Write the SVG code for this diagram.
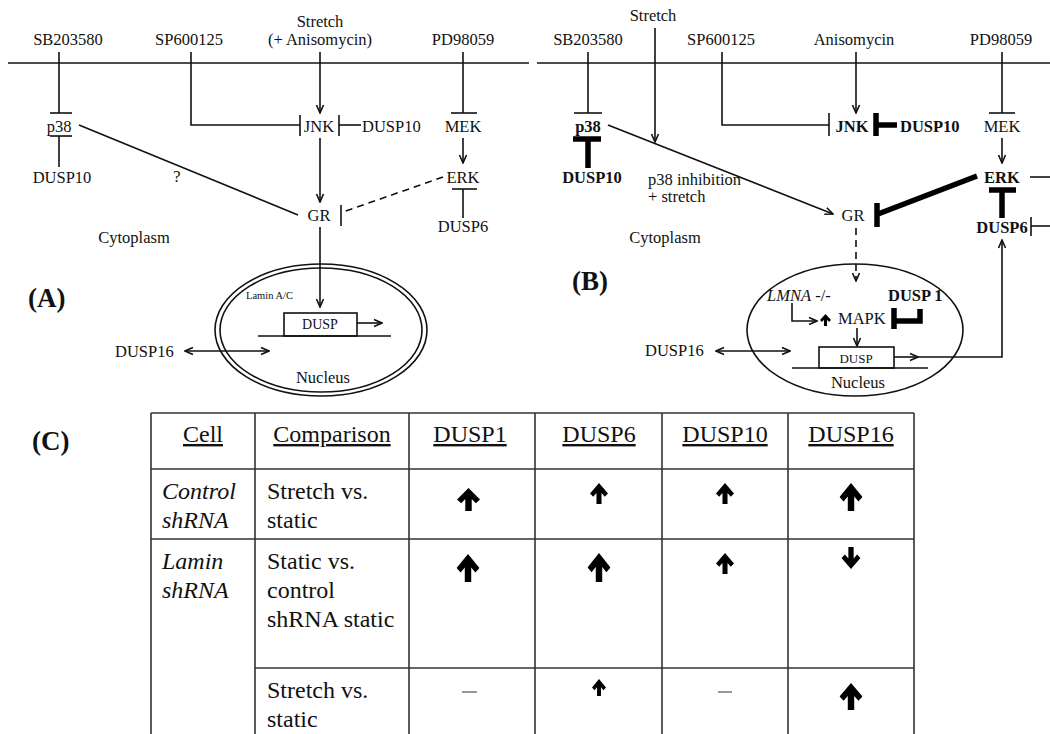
<svg xmlns="http://www.w3.org/2000/svg" xmlns:xlink="http://www.w3.org/1999/xlink" width="1050" height="734" viewBox="0 0 1050 734" font-family="'Liberation Serif', 'DejaVu Serif', serif">
<style>
.t{font-family:'Liberation Serif','DejaVu Serif',serif;font-size:16.5px;fill:#111}
.m{text-anchor:middle}
.b{font-weight:bold}
.i{font-style:italic}
.big{font-size:27px;font-weight:bold}
.tb{font-family:'Liberation Serif','DejaVu Serif',serif;font-size:24px;fill:#111}
.u{text-decoration:underline}
.ln{stroke:#111;stroke-width:1.6;fill:none}
.th{stroke:#000;stroke-width:5.5;fill:none}
.ar{marker-end:url(#ah)}
.dash{stroke-dasharray:7,5}
.grid{stroke:#333;stroke-width:1.6;fill:none}
.dsh{stroke:#777;stroke-width:1.5}
</style>
<defs>
<marker id="ah" viewBox="0 0 10 10" refX="9" refY="5" markerWidth="10" markerHeight="10" markerUnits="userSpaceOnUse" orient="auto-start-reverse">
<path d="M1,1.5 L9,5 L1,8.5" fill="none" stroke="#111" stroke-width="1.6"/>
</marker>
<symbol id="up" viewBox="0 0 10 10" preserveAspectRatio="none">
<path d="M5,0 L10,5 L8.2,6.6 L6.4,4.8 L6.4,10 L3.6,10 L3.6,4.8 L1.8,6.6 L0,5 Z" fill="#000"/>
</symbol>
<symbol id="down" viewBox="0 0 10 10" preserveAspectRatio="none">
<path d="M5,10 L10,5 L8.2,3.4 L6.4,5.2 L6.4,0 L3.6,0 L3.6,5.2 L1.8,3.4 L0,5 Z" fill="#000"/>
</symbol>
</defs>
<rect width="1050" height="734" fill="#fff"/>

<!-- membranes -->
<line x1="8" y1="63" x2="529" y2="63" class="ln"/>
<line x1="537" y1="63" x2="1050" y2="63" class="ln"/>

<!-- ===== Panel A nodes ===== -->
<g id="A-SB203580"><text class="t m" x="68" y="45">SB203580</text></g>
<g id="A-SP600125"><text class="t m" x="189" y="45">SP600125</text></g>
<g id="A-Stretch"><text class="t m" x="320" y="27">Stretch</text><text class="t m" x="320" y="45">(+ Anisomycin)</text></g>
<g id="A-PD98059"><text class="t m" x="463" y="45">PD98059</text></g>
<g id="A-p38"><text class="t m" x="59" y="132">p38</text></g>
<g id="A-DUSP10a"><text class="t m" x="62" y="183">DUSP10</text></g>
<g id="A-JNK"><text class="t m" x="319" y="132">JNK</text></g>
<g id="A-DUSP10b"><text class="t" x="362" y="132">DUSP10</text></g>
<g id="A-MEK"><text class="t m" x="463" y="132">MEK</text></g>
<g id="A-ERK"><text class="t m" x="463" y="183">ERK</text></g>
<g id="A-DUSP6"><text class="t m" x="463" y="232">DUSP6</text></g>
<g id="A-GR"><text class="t m" x="319" y="221">GR</text></g>
<g id="A-q"><text class="t m" x="177" y="182">?</text></g>
<g id="A-Cytoplasm"><text class="t m" x="134" y="243">Cytoplasm</text></g>
<g id="A-label"><text class="t big" x="28" y="307">(A)</text></g>
<g id="A-Nucleus">
<ellipse cx="321" cy="330" rx="106" ry="66" class="ln" stroke-width="1.2"/>
<ellipse cx="321" cy="330" rx="101" ry="62" class="ln" stroke-width="1.2"/>
<text class="t" x="246" y="299" style="font-size:10.5px">Lamin A/C</text>
<text class="t m" x="323" y="383">Nucleus</text>
</g>
<g id="A-DUSP"><rect x="284" y="313" width="73" height="23" class="ln" stroke-width="1.2"/><text class="t m" x="320" y="329" style="font-size:14px">DUSP</text></g>
<g id="A-DUSP16"><text class="t" x="115" y="357">DUSP16</text></g>

<!-- ===== Panel B nodes ===== -->
<g id="B-Stretch"><text class="t m" x="653" y="21">Stretch</text></g>
<g id="B-SB203580"><text class="t m" x="588" y="45">SB203580</text></g>
<g id="B-SP600125"><text class="t m" x="721" y="45">SP600125</text></g>
<g id="B-Anisomycin"><text class="t m" x="854" y="45">Anisomycin</text></g>
<g id="B-PD98059"><text class="t m" x="1001" y="45">PD98059</text></g>
<g id="B-p38"><text class="t m b" x="588" y="132">p38</text></g>
<g id="B-DUSP10a"><text class="t m b" x="592" y="183">DUSP10</text></g>
<g id="B-note"><text class="t" x="648" y="185">p38 inhibition</text><text class="t" x="648" y="202">+ stretch</text></g>
<g id="B-JNK"><text class="t m b" x="852" y="132">JNK</text></g>
<g id="B-DUSP10b"><text class="t b" x="900" y="132">DUSP10</text></g>
<g id="B-MEK"><text class="t m" x="1002" y="132">MEK</text></g>
<g id="B-ERK"><text class="t m b" x="1002" y="183">ERK</text></g>
<g id="B-DUSP6"><text class="t m b" x="1002" y="233">DUSP6</text></g>
<g id="B-GR"><text class="t m" x="853" y="221">GR</text></g>
<g id="B-Cytoplasm"><text class="t m" x="665" y="243">Cytoplasm</text></g>
<g id="B-label"><text class="t big" x="572" y="290">(B)</text></g>
<g id="B-Nucleus">
<ellipse cx="855" cy="330" rx="108" ry="66" class="ln" stroke-width="1.1"/>
<text class="t m" x="858" y="388">Nucleus</text>
</g>
<g id="B-LMNA"><text class="t" x="767" y="301"><tspan class="i">LMNA</tspan> -/-</text></g>
<g id="B-DUSP1"><text class="t b" x="888" y="301">DUSP 1</text></g>
<g id="B-MAPK"><use href="#up" xlink:href="#up" x="820" y="314" width="11" height="12"/><text class="t" x="838" y="324">MAPK</text></g>
<g id="B-DUSP"><rect x="819" y="347" width="75" height="21" class="ln" stroke-width="1.2"/><text class="t m" x="856" y="363" style="font-size:13px">DUSP</text></g>
<g id="B-DUSP16"><text class="t" x="645" y="356">DUSP16</text></g>

<!-- ===== Connectors ===== -->
<g id="connectors">
<!-- Panel A -->
<line x1="59" y1="52" x2="59" y2="113" class="ln"/><line x1="50" y1="113" x2="72" y2="113" class="ln"/>
<line x1="59" y1="167" x2="59" y2="136" class="ln"/><line x1="50" y1="136" x2="72" y2="136" class="ln"/>
<polyline points="191,52 191,125 300,125" class="ln"/><line x1="300" y1="115" x2="300" y2="136" class="ln"/>
<line x1="320" y1="52" x2="320" y2="113" class="ln ar"/>
<line x1="361" y1="125" x2="339" y2="125" class="ln"/><line x1="339" y1="115" x2="339" y2="136" class="ln"/>
<line x1="463" y1="52" x2="463" y2="113" class="ln"/><line x1="451" y1="113" x2="477" y2="113" class="ln"/>
<line x1="463" y1="138" x2="463" y2="163" class="ln ar"/>
<line x1="463" y1="218" x2="463" y2="189" class="ln"/><line x1="452" y1="189" x2="477" y2="189" class="ln"/>
<line x1="79" y1="125" x2="298" y2="215" class="ln"/>
<line x1="443" y1="177" x2="343" y2="212" class="ln dash"/><line x1="341" y1="205" x2="341" y2="226" class="ln"/>
<line x1="320" y1="138" x2="320" y2="202" class="ln ar"/>
<line x1="320" y1="227" x2="320" y2="307" class="ln ar"/>
<line x1="357" y1="323" x2="382" y2="323" class="ln ar"/>
<line x1="258" y1="336" x2="391" y2="336" class="ln"/>
<line x1="185" y1="351" x2="269" y2="351" class="ln ar" style="marker-start:url(#ah)"/>

<!-- Panel B -->
<line x1="588" y1="52" x2="588" y2="113" class="ln"/><line x1="574" y1="113" x2="602" y2="113" class="ln"/>
<line x1="573" y1="139" x2="601" y2="139" class="th"/><line x1="588" y1="139" x2="588" y2="168" class="th"/>
<line x1="655" y1="28" x2="655" y2="142" class="ln ar"/>
<line x1="608" y1="125" x2="833" y2="214" class="ln ar"/>
<polyline points="722,52 722,125 829,125" class="ln"/><line x1="829" y1="113" x2="829" y2="136" class="ln"/>
<line x1="856" y1="52" x2="856" y2="113" class="ln ar"/>
<line x1="876" y1="113" x2="876" y2="136" class="th" stroke-width="6"/><line x1="876" y1="125" x2="897" y2="125" class="th"/>
<line x1="1002" y1="52" x2="1002" y2="113" class="ln"/><line x1="989" y1="113" x2="1015" y2="113" class="ln"/>
<line x1="1002" y1="138" x2="1002" y2="163" class="ln ar"/>
<line x1="1030" y1="177" x2="1050" y2="177" class="ln"/>
<line x1="977" y1="176" x2="878" y2="214" class="th"/><line x1="877" y1="203" x2="877" y2="227" class="th" stroke-width="6"/>
<line x1="989" y1="190" x2="1016" y2="190" class="th"/><line x1="1002" y1="190" x2="1002" y2="218" class="th"/>
<line x1="1031" y1="217" x2="1031" y2="236" class="ln"/><line x1="1031" y1="226" x2="1050" y2="226" class="ln"/>
<line x1="856" y1="228" x2="856" y2="281" class="ln ar dash" stroke-dasharray="6,4"/>
<polyline points="792,303 792,321 817,321" class="ln ar"/>
<polyline points="894,308 894,329" class="th" stroke-width="6"/>
<polyline points="894,321 920,321 920,309" class="th" stroke-width="5"/>
<line x1="857" y1="328" x2="857" y2="346" class="ln ar"/>
<line x1="792" y1="368" x2="928" y2="368" class="ln"/>
<line x1="894" y1="357" x2="918" y2="357" class="ln ar"/>
<polyline points="918,357 1002,357 1002,240" class="ln ar"/>
<line x1="716" y1="351" x2="790" y2="351" class="ln ar" style="marker-start:url(#ah)"/>
</g>

<!-- ===== Table (C) ===== -->
<g id="C-label"><text class="t big" x="32" y="450">(C)</text></g>
<g id="table">
<line x1="151" y1="413" x2="914" y2="413" class="grid"/>
<line x1="151" y1="469" x2="914" y2="469" class="grid"/>
<line x1="151" y1="539" x2="914" y2="539" class="grid"/>
<line x1="255" y1="668" x2="914" y2="668" class="grid"/>
<line x1="151" y1="413" x2="151" y2="734" class="grid"/>
<line x1="255" y1="413" x2="255" y2="734" class="grid"/>
<line x1="409" y1="413" x2="409" y2="734" class="grid"/>
<line x1="535" y1="413" x2="535" y2="734" class="grid"/>
<line x1="662" y1="413" x2="662" y2="734" class="grid"/>
<line x1="788" y1="413" x2="788" y2="734" class="grid"/>
<line x1="914" y1="413" x2="914" y2="734" class="grid"/>
<text class="tb m u" x="203" y="442">Cell</text>
<text class="tb m u" x="332" y="442">Comparison</text>
<text class="tb m u" x="470" y="442">DUSP1</text>
<text class="tb m u" x="599" y="442">DUSP6</text>
<text class="tb m u" x="725" y="442">DUSP10</text>
<text class="tb m u" x="851" y="442">DUSP16</text>
<text class="tb i" x="162" y="499">Control</text>
<text class="tb i" x="162" y="528">shRNA</text>
<text class="tb" x="267" y="499">Stretch vs.</text>
<text class="tb" x="267" y="528">static</text>
<text class="tb i" x="162" y="569">Lamin</text>
<text class="tb i" x="162" y="598">shRNA</text>
<text class="tb" x="267" y="569">Static vs.</text>
<text class="tb" x="267" y="598">control</text>
<text class="tb" x="267" y="627">shRNA static</text>
<text class="tb" x="267" y="698">Stretch vs.</text>
<text class="tb" x="267" y="727">static</text>
<use href="#up" xlink:href="#up" x="457" y="488" width="23" height="23"/>
<use href="#up" xlink:href="#up" x="590" y="483" width="18" height="21"/>
<use href="#up" xlink:href="#up" x="716" y="483" width="18" height="21"/>
<use href="#up" xlink:href="#up" x="839.5" y="483" width="23" height="28"/>
<use href="#up" xlink:href="#up" x="456.5" y="554" width="23" height="28"/>
<use href="#up" xlink:href="#up" x="587.5" y="553" width="23" height="29"/>
<use href="#up" xlink:href="#up" x="716" y="553" width="18" height="21"/>
<use href="#down" xlink:href="#down" x="841.5" y="547" width="19" height="22"/>
<line x1="462" y1="692" x2="477" y2="692" class="dsh"/>
<use href="#up" xlink:href="#up" x="592" y="679" width="14" height="17"/>
<line x1="718" y1="692" x2="732" y2="692" class="dsh"/>
<use href="#up" xlink:href="#up" x="839.5" y="683" width="23" height="27"/>
</g>
</svg>
